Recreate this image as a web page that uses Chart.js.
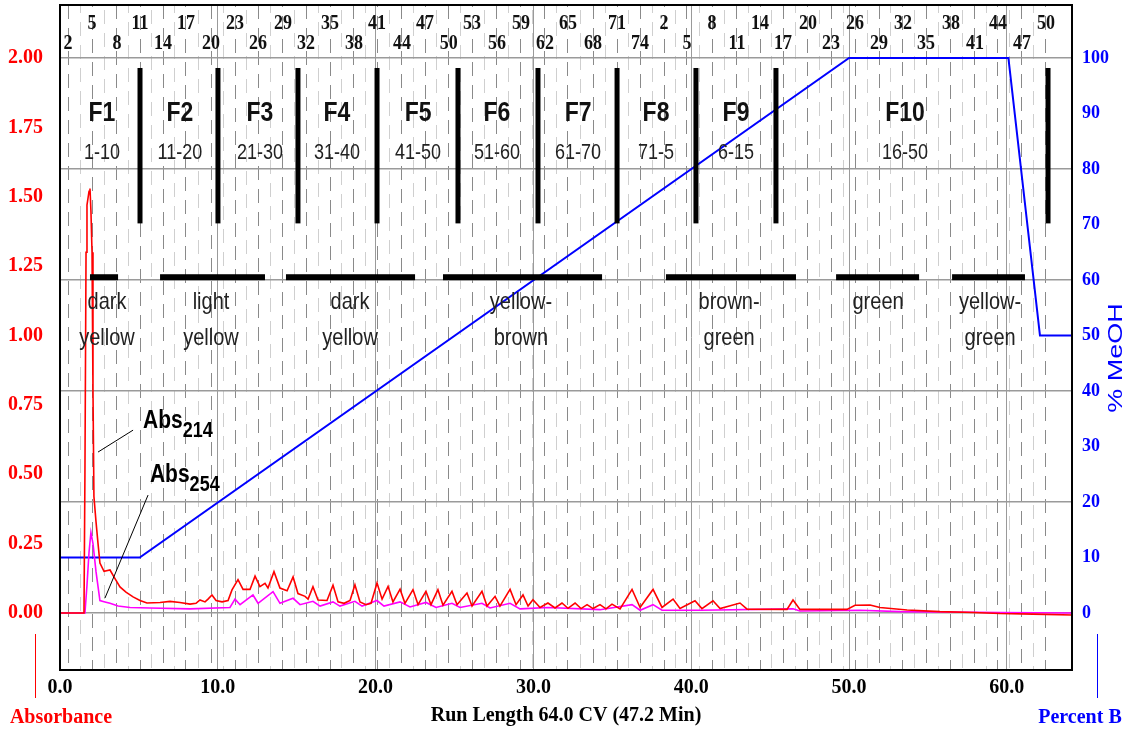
<!DOCTYPE html>
<html><head><meta charset="utf-8">
<script src="https://cdn.jsdelivr.net/npm/chart.js@4/dist/chart.umd.min.js"></script>
<style>html,body{margin:0;padding:0;background:#fff;}#wrap{width:1126px;height:733px;}</style>
</head><body><div id="wrap"><canvas id="c" width="1126" height="733"></canvas></div>
<script>
// ---- data (x = run length in CV) ----
const abs214 = [[0,0],[1.52,0],[1.58,0.5],[1.65,1.3],[1.71,1.47],[1.84,1.52],[1.90,1.53],[1.96,1.45],[2.03,1.3],[2.09,0.8],[2.15,0.42],[2.28,0.33],[2.41,0.25],[2.53,0.18],[2.79,0.15],[3.17,0.155],[3.42,0.13],[3.80,0.094],[4.18,0.075],[4.63,0.058],[5.07,0.045],[5.51,0.036],[6.34,0.038],[6.97,0.042],[7.60,0.038],[8.24,0.032],[8.62,0.035],[8.87,0.047],[9.19,0.04],[9.38,0.05],[9.63,0.065],[9.89,0.045],[10.27,0.04],[10.65,0.045],[10.90,0.083],[11.28,0.12],[11.60,0.085],[12.04,0.085],[12.36,0.133],[12.67,0.095],[12.99,0.107],[13.18,0.09],[13.56,0.149],[13.94,0.09],[14.39,0.08],[14.77,0.13],[15.08,0.07],[15.53,0.06],[15.72,0.05],[16.03,0.095],[16.35,0.047],[16.92,0.045],[17.30,0.1],[17.62,0.04],[18.00,0.035],[18.38,0.045],[18.69,0.102],[19.01,0.04],[19.39,0.03],[19.71,0.035],[20.09,0.108],[20.41,0.05],[20.79,0.096],[21.10,0.04],[21.55,0.086],[21.86,0.035],[22.37,0.084],[22.69,0.03],[23.19,0.078],[23.51,0.03],[23.95,0.084],[24.27,0.028],[24.84,0.078],[25.16,0.03],[25.79,0.072],[26.11,0.025],[26.74,0.078],[27.06,0.025],[27.57,0.06],[27.88,0.025],[28.52,0.085],[28.90,0.03],[29.34,0.065],[29.66,0.025],[29.97,0.048],[30.42,0.02],[30.92,0.036],[31.37,0.018],[31.81,0.036],[32.19,0.017],[32.64,0.036],[33.02,0.016],[33.40,0.03],[33.78,0.016],[34.22,0.03],[34.60,0.015],[34.98,0.032],[35.49,0.015],[36.25,0.085],[36.76,0.02],[37.58,0.085],[38.15,0.02],[38.85,0.05],[39.29,0.016],[40.24,0.044],[40.68,0.016],[41.38,0.044],[41.83,0.016],[43.09,0.036],[43.54,0.014],[46.07,0.013],[46.45,0.047],[46.89,0.013],[49.87,0.013],[50.38,0.028],[51.33,0.029],[51.96,0.02],[53.68,0.011],[55.77,0.005],[57.86,0.002],[59.57,-0.002],[61.66,-0.004],[64.13,-0.007]];
const abs254 = [[0,0],[1.58,0],[1.71,0.1],[1.84,0.22],[1.96,0.29],[2.09,0.25],[2.28,0.15],[2.53,0.045],[2.85,0.04],[3.17,0.035],[3.68,0.025],[4.44,0.02],[5.70,0.018],[8.24,0.015],[10.77,0.02],[11.09,0.05],[11.41,0.03],[12.23,0.065],[12.55,0.035],[13.50,0.077],[13.94,0.035],[14.77,0.053],[15.21,0.03],[16.03,0.042],[16.48,0.025],[17.30,0.04],[17.74,0.025],[18.69,0.042],[19.14,0.025],[20.09,0.045],[20.53,0.025],[21.55,0.04],[22.18,0.022],[23.19,0.038],[23.83,0.02],[24.84,0.035],[25.35,0.02],[26.74,0.035],[27.25,0.018],[28.52,0.035],[29.15,0.015],[30.92,0.02],[34.22,0.012],[36.25,0.03],[36.76,0.01],[37.58,0.03],[38.15,0.01],[40.56,0.01],[46.45,0.015],[46.89,0.007],[50.70,0.01],[53.23,0.005],[59.57,0.002],[64.13,0]];
const meoh = [[0,10],[5.05,10],[50.0,100],[60.1,100],[62.1,50],[64.13,50]];

const xTicks = [0,10,20,30,40,50,60];
const absTicks = [0,0.25,0.5,0.75,1.0,1.25,1.5,1.75,2.0];
const meohTicks = [0,10,20,30,40,50,60,70,80,90,100];

const tubeLabels = ['2','5','8','11','14','17','20','23','26','29','32','35','38','41','44','47','50','53','56','59','62','65','68','71','74','2','5','8','11','14','17','20','23','26','29','32','35','38','41','44','47','50'];
const tubePositions = [0.51,2.03,3.61,5.07,6.53,7.98,9.57,11.09,12.55,14.13,15.59,17.11,18.63,20.09,21.67,23.13,24.64,26.11,27.69,29.21,30.73,32.19,33.78,35.30,36.76,38.28,39.73,41.32,42.90,44.36,45.82,47.40,48.86,50.38,51.90,53.42,54.88,56.46,57.98,59.44,60.96,62.48];

const fractionNames = ['F1','F2','F3','F4','F5','F6','F7','F8','F9','F10'];
const fractionRanges = ['1-10','11-20','21-30','31-40','41-50','51-60','61-70','71-5','6-15','16-50'];
const fractionCenters = [2.66,7.60,12.67,17.55,22.69,27.69,32.83,37.77,42.84,53.55];
const fractionDividers = [5.07,10.01,15.08,20.09,25.22,30.29,35.30,40.30,45.37,62.61];

const colorNames = [['dark','yellow'],['light','yellow'],['dark','yellow'],['yellow-','brown'],['brown-','green'],['green'],['yellow-','green']];
const colorStart = [1.90,6.34,14.32,24.27,38.40,49.18,56.53];
const colorEnd = [3.68,12.99,22.50,34.35,46.64,54.44,61.15];
const colorTextCenters = [2.98,9.57,18.38,29.21,42.40,51.84,58.94];

const X_MAX = 64.13;
const SERIF = "'Liberation Serif', 'Times New Roman', serif";
const SANS = "'Liberation Sans', Arial, sans-serif";

function stext(ctx, txt, x, y, font, color, align, sy, baseline) {
  ctx.save();
  ctx.translate(x, y);
  ctx.scale(1, sy || 1);
  ctx.font = font; ctx.fillStyle = color;
  ctx.textAlign = align || 'center';
  ctx.textBaseline = baseline || 'middle';
  ctx.fillText(txt, 0, 0);
  ctx.restore();
}

const overlay = {
  id: 'overlay',
  afterDatasetsDraw(chart) {
    const {ctx, scales} = chart;
    const X = v => scales.x.getPixelForValue(v);
    const YA = v => scales.y.getPixelForValue(v);
    const YM = v => scales.y2.getPixelForValue(v);
    ctx.save();
    ctx.fillStyle = '#000';
    fractionDividers.forEach(v => {
      const x = X(v), t = YM(98.2), b = YM(70.2);
      ctx.fillRect(x - 2.5, t, 5, b - t);
    });
    fractionNames.forEach((n, i) => {
      stext(ctx, n, X(fractionCenters[i]), YM(90.1), 'bold 23px ' + SANS, '#111', 'center', 1.2);
      stext(ctx, fractionRanges[i], X(fractionCenters[i]), YM(82.9), '18px ' + SANS, '#222', 'center', 1.2);
    });
    colorNames.forEach((lines, i) => {
      const x1 = X(colorStart[i]), x2 = X(colorEnd[i]), y = YM(60.5);
      ctx.fillStyle = '#000';
      ctx.fillRect(x1, y - 3, x2 - x1, 6);
      lines.forEach((ln, k) => {
        stext(ctx, ln, X(colorTextCenters[i]), YM(k === 0 ? 55.9 : 49.4), '20px ' + SANS, '#222', 'center', 1.2);
      });
    });
    tubeLabels.forEach((t, i) => {
      const y = i % 2 === 0 ? YA(2.05) : YA(2.125);
      stext(ctx, t, X(tubePositions[i]), y, 'bold 18px ' + SERIF, '#111', 'center', 1.15);
    });
    ctx.strokeStyle = '#000'; ctx.lineWidth = 1;
    ctx.beginPath();
    ctx.moveTo(X(4.63), YA(0.659)); ctx.lineTo(X(2.41), YA(0.580));
    ctx.moveTo(X(5.58), YA(0.425)); ctx.lineTo(X(2.85), YA(0.054));
    ctx.stroke();
    const absLbl = (sub, xv, yv) => {
      const x = X(xv), y = YA(yv);
      ctx.save();
      ctx.font = 'bold 21px ' + SANS;
      const w = ctx.measureText('Abs').width;
      ctx.restore();
      stext(ctx, 'Abs', x, y, 'bold 21px ' + SANS, '#000', 'left', 1.2, 'alphabetic');
      stext(ctx, sub, x + w, y + 9, 'bold 18px ' + SANS, '#000', 'left', 1.2, 'alphabetic');
    };
    absLbl('214', 5.26, 0.667);
    absLbl('254', 5.70, 0.472);
    ctx.restore();
  },
  afterDraw(chart) {
    const {ctx, chartArea: a} = chart;
    ctx.save();
    ctx.strokeStyle = '#000'; ctx.lineWidth = 2;
    ctx.strokeRect(a.left, a.top, a.right - a.left, a.bottom - a.top);
    ctx.lineWidth = 1;
    ctx.strokeStyle = '#ff0000';
    ctx.beginPath(); ctx.moveTo(35.5, 634); ctx.lineTo(35.5, 698); ctx.stroke();
    ctx.strokeStyle = '#0000ff';
    ctx.beginPath(); ctx.moveTo(1097.5, 634); ctx.lineTo(1097.5, 698); ctx.stroke();
    stext(ctx, 'Absorbance', 61, 717, 'bold 20px ' + SERIF, '#ff0000', 'center', 1.1);
    stext(ctx, 'Percent B', 1080, 717, 'bold 20px ' + SERIF, '#0000ff', 'center', 1.1);
    ctx.save();
    ctx.translate(1116, 358);
    ctx.rotate(-Math.PI / 2);
    ctx.scale(1.35, 1);
    ctx.font = '20px ' + SANS; ctx.fillStyle = '#0000ff';
    ctx.textAlign = 'center'; ctx.textBaseline = 'middle';
    ctx.fillText('% MeOH', 0, 0);
    ctx.restore();
    ctx.restore();
  }
};

const toXY = arr => arr.map(([x, y]) => ({x, y}));
const fitV = w => s => { s.width = w; s.paddingTop = 0; s.paddingBottom = 0; };

new Chart(document.getElementById('c'), {
  type: 'line',
  data: {
    datasets: [
      {label: 'Abs214', data: toXY(abs214), xAxisID: 'x', yAxisID: 'y', borderColor: '#ff0000', borderWidth: 1.6, pointRadius: 0, tension: 0},
      {label: 'Abs254', data: toXY(abs254), xAxisID: 'x', yAxisID: 'y', borderColor: '#ff00ff', borderWidth: 1.6, pointRadius: 0, tension: 0},
      {label: '% MeOH', data: toXY(meoh), xAxisID: 'x', yAxisID: 'y2', borderColor: '#0000ff', borderWidth: 2, pointRadius: 0, tension: 0}
    ]
  },
  options: {
    responsive: false,
    animation: false,
    devicePixelRatio: 1,
    layout: {padding: {top: 5, left: 0, right: 0, bottom: 0}},
    plugins: {legend: {display: false}, tooltip: {enabled: false}},
    scales: {
      x: {
        type: 'linear', position: 'bottom', min: 0, max: X_MAX,
        afterBuildTicks: s => { s.ticks = xTicks.map(v => ({value: v})); },
        afterFit: s => { s.height = 63; s.paddingLeft = 0; s.paddingRight = 0; },
        ticks: {callback: v => Number(v).toFixed(1), color: '#000', font: {family: SERIF, size: 20, weight: 'bold'}, padding: 6, maxRotation: 0, autoSkip: false},
        grid: {color: '#9a9a9a', lineWidth: 1, drawTicks: false},
        border: {display: false},
        title: {display: true, text: 'Run Length 64.0 CV (47.2 Min)', color: '#000', font: {family: SERIF, size: 20, weight: 'bold'}, padding: {top: 0, bottom: 5}}
      },
      x2: {
        type: 'linear', position: 'top', min: 0, max: X_MAX,
        afterBuildTicks: s => {
          const t = [];
          tubePositions.forEach((p, i) => {
            t.push({value: p});
            if (i < tubePositions.length - 1) t.push({value: (p + tubePositions[i + 1]) / 2});
          });
          s.ticks = t;
        },
        afterFit: s => { s.height = 0; s.paddingLeft = 0; s.paddingRight = 0; },
        ticks: {display: false},
        grid: {color: c => c.index % 2 === 0 ? '#8a8a8a' : '#cfcfcf', lineWidth: 1, drawTicks: false},
        border: {display: false, dash: [14, 9], dashOffset: c => (c.index % 4) * 6}
      },
      y: {
        type: 'linear', position: 'left', min: -0.2054, max: 2.191,
        afterBuildTicks: s => { s.ticks = absTicks.map(v => ({value: v})); },
        afterFit: fitV(60),
        ticks: {callback: v => Number(v).toFixed(2), color: '#ff0000', font: {family: SERIF, size: 20, weight: 'bold'}, padding: 9},
        grid: {display: false},
        border: {display: false}
      },
      y2: {
        type: 'linear', position: 'right', min: -10.27, max: 109.55,
        afterBuildTicks: s => { s.ticks = meohTicks.map(v => ({value: v})); },
        afterFit: fitV(54),
        ticks: {callback: v => String(v), color: '#0000ff', font: {family: SERIF, size: 18, weight: 'bold'}, padding: 10},
        grid: {color: c => (c.tick && c.tick.value % 20 === 0) ? '#9a9a9a' : 'rgba(0,0,0,0)', lineWidth: 1.5, drawTicks: false},
        border: {display: false}
      }
    }
  },
  plugins: [overlay]
});
</script>
</body></html>
